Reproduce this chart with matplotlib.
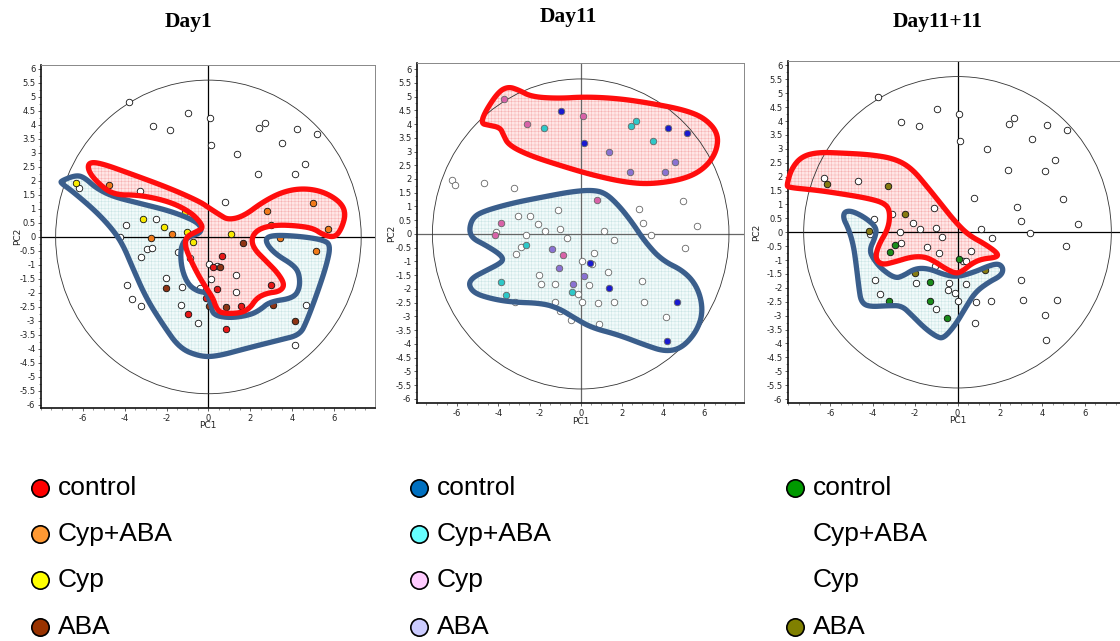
import numpy as np
import matplotlib
matplotlib.use("Agg")
import matplotlib.pyplot as plt
from matplotlib.patches import Polygon, Ellipse
from matplotlib.ticker import MultipleLocator, FixedLocator, FuncFormatter

# ---------------------------------------------------------------- data
groups = ["control", "Cyp+ABA", "Cyp", "ABA"]
titles = ["Day1", "Day11", "Day11+11"]
pc1_ticks = [-6, -4, -2, 0, 2, 4, 6]

# Day1 scores
d1_other_x = [-3.80, -0.97, 0.06, -2.66, -1.85, 2.68, 2.41, 4.21, 5.19, 3.53, 0.11, 1.36, 4.61,
              2.38, 4.12, -6.19, -3.29, 0.78, -2.49, -3.94, -4.21, -2.94, -2.70, -3.21, -1.47,
              -0.89, 0.02, 0.41, 0.14, 1.32, -2.04, -3.91, -1.26, -0.38, 1.32, -3.65, -3.24,
              -1.31, -0.51, 4.68, 4.16]
d1_other_y = [4.83, 4.44, 4.25, 3.95, 3.82, 4.07, 3.88, 3.85, 3.67, 3.37, 3.29, 2.96, 2.60,
              2.25, 2.23, 1.73, 1.64, 1.24, 0.64, 0.43, 0.01, -0.44, -0.39, -0.71, -0.54,
              -0.76, -0.96, -1.05, -1.51, -1.36, -1.46, -1.73, -1.79, -1.81, -1.95, -2.21, -2.48,
              -2.44, -3.08, -2.42, -3.87]
d1_control_x = [0.24, 0.41, -0.13, -0.99, 0.83, 1.58, 2.97, 0.64]
d1_control_y = [-1.07, -1.86, -2.18, -2.77, -3.29, -2.45, -1.71, -0.67]
d1_cypaba_x = [-4.76, -2.73, -1.76, 2.82, 3.00, 3.41, 4.99, 5.70, 5.12]
d1_cypaba_y = [1.86, -0.04, 0.11, 0.92, 0.43, -0.04, 1.20, 0.30, -0.51]
d1_cyp_x = [-6.35, -3.11, -2.11, -1.10, -1.02, -0.73, 1.07]
d1_cyp_y = [1.93, 0.64, 0.35, 0.88, 0.17, -0.17, 0.11]
d1_aba_x = [1.63, 0.56, 0.83, -2.01, 0.02, 3.10, 4.15]
d1_aba_y = [-0.21, -1.06, -2.51, -1.81, -2.45, -2.43, -2.99]

# Day11 scores
d11_other_x = [-6.26, -6.10, -4.71, -3.23, -1.08, 2.85, 3.01, 3.41, 4.97, 5.66, 5.08, -3.06,
               -2.44, -2.09, -1.71, -0.99, -0.66, 1.12, 1.63, -4.12, -2.68, -2.90, -3.14, 0.66,
               0.05, 0.55, 1.34, -2.01, -1.94, -1.23, 0.42, -0.13, 2.98, -3.19, -1.25, 0.05,
               0.86, 1.60, 3.07, -0.99, -0.49, 0.87, 4.12]
d11_other_y = [1.95, 1.77, 1.85, 1.66, 0.88, 0.92, 0.41, -0.05, 1.21, 0.29, -0.50, 0.64,
               0.64, 0.35, 0.10, 0.17, -0.15, 0.11, -0.21, 0.06, -0.05, -0.48, -0.74, -0.68,
               -0.98, -1.09, -1.37, -1.49, -1.83, -1.81, -1.87, -2.19, -1.72, -2.48, -2.47, -2.48,
               -2.52, -2.48, -2.46, -2.81, -3.13, -3.28, -3.02]
d11_control_x = [-0.95, 4.22, 5.18, 0.15, 0.44, 1.36, 4.67, 4.19]
d11_control_y = [4.47, 3.87, 3.68, 3.32, -1.05, -1.96, -2.46, -3.90]
d11_cypaba_x = [-1.80, 2.46, 2.68, 3.51, -2.64, -3.85, -3.61, -0.40]
d11_cypaba_y = [3.87, 3.93, 4.11, 3.38, -0.41, -1.76, -2.23, -2.11]
d11_cyp_x = [-3.72, 0.11, -2.59, 0.79, -3.88, -4.14, -0.84]
d11_cyp_y = [4.90, 4.28, 3.99, 1.25, 0.41, -0.05, -0.75]
d11_aba_x = [1.37, 4.58, 2.39, 4.09, -1.41, -1.04, 0.18, -0.37]
d11_aba_y = [2.98, 2.62, 2.27, 2.24, -0.53, -1.24, -1.53, -1.82]

# Day11+11 scores
d22_other_x = [-3.76, -0.96, 0.09, -2.65, -1.84, 2.66, 2.41, 4.22, 5.18, 3.50, 0.14, 1.37, 4.60,
               2.38, 4.11, -6.31, -4.71, 0.79, 2.83, 4.98, 3.01, 3.43, 5.67, 5.10, 1.09, 1.62,
               -1.12, -3.92, -3.09, -2.09, -1.76, -1.01, -0.71, -2.72, -2.68, -1.43, -0.88, 0.66,
               0.28, 0.41, -1.06, -3.89, -1.95, -0.38, 0.41, -0.43, -0.14, -3.64, 0.00, 0.85,
               1.59, 2.98, 3.09, 4.68, -1.01, 0.82, 4.14, 4.17, -4.15]
d22_other_y = [4.85, 4.45, 4.26, 3.97, 3.84, 4.11, 3.89, 3.87, 3.67, 3.37, 3.30, 2.98, 2.60,
               2.24, 2.22, 1.94, 1.85, 1.24, 0.91, 1.21, 0.42, -0.02, 0.30, -0.49, 0.12, -0.20,
               0.88, 0.46, 0.65, 0.35, 0.11, 0.17, -0.16, 0.00, -0.40, -0.53, -0.74, -0.67,
               -1.03, -1.03, -1.22, -1.73, -1.81, -1.82, -1.86, -2.08, -2.18, -2.21, -2.46, -2.51,
               -2.46, -1.72, -2.42, -2.42, -2.77, -3.28, -2.99, -3.88, -0.06]
d22_control_x = [-2.93, -3.18, 0.05, -1.28, -3.23, -1.31, -0.50]
d22_control_y = [-0.44, -0.72, -0.96, -1.80, -2.48, -2.46, -3.10]
d22_aba_x = [-6.14, -3.26, -2.47, -4.17, -2.00, 1.32]
d22_aba_y = [1.74, 1.67, 0.65, 0.06, -1.46, -1.36]

# Outlined sample regions (PC1, PC2 vertices)
d1_red_x = [-5.71, -5.12, -3.77, -1.85, -0.41, 0.06, 0.54, 0.94, 1.66, 2.62, 3.57, 4.53, 5.49,
            6.29, 6.57, 6.37, 6.05, 5.49, 5.01, 4.21, 3.26, 2.46, 2.06, 2.14, 2.78, 3.33, 3.65,
            3.41, 2.78, 2.30, 1.98, 1.50, 0.62, 0.38, 0.22, -0.10, -0.49, -0.89, -1.13, -1.05,
            -0.57, -0.26, -0.41, -0.89, -1.85, -3.29, -4.56, -5.36, -5.76]
d1_red_y = [2.67, 2.63, 2.27, 1.74, 1.26, 1.02, 0.79, 0.61, 0.73, 1.26, 1.62, 1.74, 1.62,
            1.26, 0.85, 0.31, -0.02, 0.07, 0.31, 0.40, 0.43, 0.31, 0.01, -0.40, -0.88, -1.30, -1.71,
            -1.95, -2.01, -2.19, -2.55, -2.73, -2.73, -2.55, -2.19, -1.83, -1.36, -0.76, -0.29, 0.01,
            0.19, 0.31, 0.55, 0.90, 1.26, 1.50, 1.50, 1.98, 2.39]
d1_blue_x = [-7.04, -6.32, -5.92, -5.36, -4.56, -3.29, -1.85, -0.73, -0.34, -0.38, -1.05, -1.34,
             -1.29, -0.97, -0.49, -0.10, 0.14, 0.22, 1.02, 1.98, 2.46, 2.94, 4.05, 4.37, 4.34,
             4.05, 3.26, 2.81, 2.74, 3.26, 4.53, 5.49, 5.84, 5.65, 5.17, 4.69, 4.37, 3.41, 1.82,
             0.38, -0.41, -1.37, -2.17, -2.97, -3.61, -4.08, -4.56, -5.36, -6.48, -7.04]
d1_blue_y = [2.00, 2.21, 2.12, 1.74, 1.44, 1.20, 0.93, 0.61, 0.37, 0.13, -0.02, -0.40,
             -1.12, -1.71, -1.95, -1.98, -2.43, -2.79, -2.90, -2.79, -2.61, -2.31, -2.19, -1.83, -1.30,
             -1.00, -0.64, -0.29, -0.02, 0.07, 0.01, -0.11, -0.29, -1.00, -2.07, -3.02, -3.50, -3.68, -3.98,
             -4.27, -4.27, -3.98, -3.14, -2.19, -1.12, -0.29, 0.25, 0.90, 1.62, 1.92]
d11_red_x = [-4.84, -4.64, -3.99, -3.51, -3.02, -2.38, -1.08, 0.21, 1.83, 3.44, 5.06, 6.03, 6.68,
             6.60, 6.03, 5.06, 3.44, 2.15, 0.53, -1.08, -2.54, -3.51, -3.75, -3.91, -4.48]
d11_red_y = [4.02, 4.45, 5.18, 5.36, 5.24, 4.99, 4.93, 4.99, 4.93, 4.75, 4.51, 4.21, 3.66,
             2.99, 2.39, 2.00, 1.81, 1.88, 2.15, 2.51, 2.87, 3.24, 3.60, 3.87, 3.96]
d11_blue_x = [-5.42, -5.26, -4.80, -3.35, -1.73, -0.44, 0.53, 1.18, 1.83, 2.47, 3.12, 3.93, 5.06,
              5.71, 5.95, 5.63, 4.90, 4.09, 3.12, 1.83, 0.53, -0.27, -1.08, -1.89, -3.35, -4.32,
              -5.16, -5.45, -5.26, -4.64, -3.91, -3.75, -3.99, -4.64, -5.26]
d11_blue_y = [0.15, 0.57, 0.81, 1.12, 1.36, 1.54, 1.60, 1.50, 1.05, 0.45, -0.28, -0.95, -1.37,
              -1.98, -2.82, -3.55, -4.16, -4.28, -4.04, -3.67, -3.41, -3.07, -2.70, -2.52, -2.48, -2.36,
              -2.16, -1.85, -1.59, -1.35, -1.07, -0.91, -0.70, -0.40, -0.16]
d22_red_x = [-8.06, -7.83, -7.35, -6.57, -5.46, -4.05, -2.94, -2.16, -1.37, -0.74, -0.11, 0.52,
             1.31, 1.91, 1.86, 1.15, 0.68, 0.20, -0.11, -0.58, -1.06, -1.53, -2.16, -2.94, -3.57,
             -3.89, -3.73, -3.26, -3.18, -3.42, -4.20, -5.62, -6.72, -7.98]
d22_red_y = [1.70, 2.30, 2.73, 2.88, 2.85, 2.79, 2.64, 2.30, 1.58, 0.98, 0.38, -0.10,
             -0.43, -0.76, -0.90, -0.96, -1.12, -1.42, -1.48, -1.30, -1.06, -0.88, -0.88, -1.06, -1.18,
             -0.94, -0.46, 0.14, 0.74, 1.04, 1.22, 1.40, 1.52, 1.61]
d22_blue_x = [-5.34, -4.99, -4.36, -3.81, -3.89, -4.16, -3.97, -3.57, -2.94, -2.55, -2.00, -1.37,
              -0.58, 0.05, 0.83, 1.46, 1.94, 2.17, 2.06, 1.46, 0.83, 0.36, -0.11, -0.66, -0.98,
              -1.53, -2.16, -2.63, -3.26, -4.20, -4.55, -4.65, -4.76, -4.91, -5.15, -5.39]
d22_blue_y = [0.74, 0.77, 0.53, 0.17, -0.19, -0.64, -0.96, -1.33, -1.66, -1.56, -1.30, -1.30,
              -1.54, -1.60, -1.42, -1.21, -1.12, -1.30, -1.56, -1.80, -2.16, -2.74, -3.34, -3.82, -3.76,
              -3.46, -2.98, -2.64, -2.64, -2.68, -2.50, -2.02, -1.30, -0.46, 0.14, 0.50]

# ------------------------------------------------------------- styling
W, H = 1120, 641
fig = plt.figure(figsize=(W / 100, H / 100), dpi=100)
plt.rcParams["hatch.linewidth"] = 0.3

RED_LINE, BLUE_LINE = "#ff0d0d", "#3a5e8c"
RED_FILL, RED_HATCH = "#ffe6e6", "#f5a8a8"
BLUE_FILL, BLUE_HATCH = "#f2fafa", "#c4e2e2"

pt_cols = [
    {"control": "#e81818", "Cyp+ABA": "#f07a1a", "Cyp": "#f8ea00", "ABA": "#8e3414"},
    {"control": "#1a1ad0", "Cyp+ABA": "#2ec8c8", "Cyp": "#d862a8", "ABA": "#8a72d2"},
    {"control": "#1a8c1a", "ABA": "#857a10"},
]
legend_cols = [
    {"control": "#ff0000", "Cyp+ABA": "#ff9933", "Cyp": "#ffff00", "ABA": "#993300"},
    {"control": "#0070c0", "Cyp+ABA": "#66ffff", "Cyp": "#ffccff", "ABA": "#ccccff"},
    {"control": "#009900", "Cyp+ABA": None, "Cyp": None, "ABA": "#808000"},
]


def px_axes(left, right, top, bottom):
    return fig.add_axes([left / W, 1 - bottom / H, (right - left) / W, (bottom - top) / H])


def smooth(xs, ys, n=3):
    p = np.column_stack([xs, ys]).astype(float)
    for _ in range(n):
        q = np.roll(p, -1, axis=0)
        out = np.empty((2 * len(p), 2))
        out[0::2] = 0.75 * p + 0.25 * q
        out[1::2] = 0.25 * p + 0.75 * q
        p = out
    return p


def region(ax, xs, ys, fill, hatch, line, z):
    pts = smooth(xs, ys)
    ax.add_patch(Polygon(pts, closed=True, facecolor=fill, edgecolor=hatch,
                         hatch="+++++", lw=0, zorder=1))
    ax.add_patch(Polygon(pts, closed=True, fill=False, edgecolor=line, lw=3.8,
                         joinstyle="round", zorder=z, clip_on=False))


def setup(ax, xlim, ylim, ell, axcol, xlab_y, ylab_x):
    ax.set_xlim(*xlim)
    ax.set_ylim(*ylim)
    ax.xaxis.set_major_locator(FixedLocator(pc1_ticks))
    ax.xaxis.set_minor_locator(MultipleLocator(0.5))
    ax.yaxis.set_major_locator(MultipleLocator(0.5))
    ax.yaxis.set_minor_locator(MultipleLocator(0.25))
    fmt = FuncFormatter(lambda v, p: "%g" % (round(v, 2) + 0.0))
    ax.xaxis.set_major_formatter(fmt)
    ax.yaxis.set_major_formatter(fmt)
    ax.tick_params(which="major", labelsize=6, length=2.5, width=0.5, pad=1.5,
                   colors="#222222")
    ax.tick_params(which="minor", length=1.5, width=0.4, colors="#444444")
    for s in ("left", "bottom"):
        ax.spines[s].set_color("#111111")
        ax.spines[s].set_linewidth(1.2)
    for s in ("top", "right"):
        ax.spines[s].set_color("#888888")
        ax.spines[s].set_linewidth(0.7)
    ax.set_xlabel("PC1", fontsize=6.5, color="#222222")
    ax.set_ylabel("PC2", fontsize=6.5, color="#222222")
    ax.xaxis.set_label_coords(0.5, xlab_y)
    ax.yaxis.set_label_coords(ylab_x, 0.5)
    ax.axhline(0, color=axcol, lw=0.9, zorder=2)
    ax.axvline(0, color=axcol, lw=0.9, zorder=2)
    ax.add_patch(Ellipse((0, 0), 2 * ell[0], 2 * ell[1], fill=False,
                         edgecolor="#333333", lw=0.6, zorder=2))


def points(ax, xs, ys, color, edge="#111111"):
    ax.scatter(xs, ys, s=22, c=color, edgecolors=edge, linewidths=0.6, zorder=3)


# ---------------------------------------------------------------- Day1
ax1 = px_axes(41, 375, 65, 408)
setup(ax1, (-8.0, 7.96), (-6.11, 6.14), (7.3, 5.6), "black", -0.038, -0.057)
region(ax1, d1_blue_x, d1_blue_y, BLUE_FILL, BLUE_HATCH, BLUE_LINE, 4)
region(ax1, d1_red_x, d1_red_y, RED_FILL, RED_HATCH, RED_LINE, 5)
points(ax1, d1_other_x, d1_other_y, "white")
points(ax1, d1_control_x, d1_control_y, pt_cols[0]["control"])
points(ax1, d1_cypaba_x, d1_cypaba_y, pt_cols[0]["Cyp+ABA"])
points(ax1, d1_cyp_x, d1_cyp_y, pt_cols[0]["Cyp"])
points(ax1, d1_aba_x, d1_aba_y, pt_cols[0]["ABA"])

# --------------------------------------------------------------- Day11
ax2 = px_axes(417, 744, 63, 403)
setup(ax2, (-7.95, 7.93), (-6.15, 6.22), (7.2, 5.64), "#666666", -0.041, -0.064)
region(ax2, d11_blue_x, d11_blue_y, BLUE_FILL, BLUE_HATCH, BLUE_LINE, 4)
region(ax2, d11_red_x, d11_red_y, RED_FILL, RED_HATCH, RED_LINE, 5)
points(ax2, d11_other_x, d11_other_y, "white", edge="#666666")
points(ax2, d11_control_x, d11_control_y, pt_cols[1]["control"], edge="#666666")
points(ax2, d11_cypaba_x, d11_cypaba_y, pt_cols[1]["Cyp+ABA"], edge="#666666")
points(ax2, d11_cyp_x, d11_cyp_y, pt_cols[1]["Cyp"], edge="#666666")
points(ax2, d11_aba_x, d11_aba_y, pt_cols[1]["ABA"], edge="#666666")

# ------------------------------------------------------------ Day11+11
ax3 = px_axes(788, 1127, 61, 403)
setup(ax3, (-8.0, 8.0), (-6.14, 6.16), (7.26, 5.6), "black", -0.038, -0.080)
region(ax3, d22_blue_x, d22_blue_y, BLUE_FILL, BLUE_HATCH, BLUE_LINE, 4)
region(ax3, d22_red_x, d22_red_y, RED_FILL, RED_HATCH, RED_LINE, 5)
points(ax3, d22_other_x, d22_other_y, "white")
points(ax3, d22_control_x, d22_control_y, pt_cols[2]["control"])
points(ax3, d22_aba_x, d22_aba_y, pt_cols[2]["ABA"])

# ------------------------------------------------- titles and legends
ov = fig.add_axes([0, 0, 1, 1], zorder=10)
ov.set_xlim(0, W)
ov.set_ylim(H, 0)
ov.axis("off")
ov.patch.set_alpha(0)

title_pos = [(189, 22), (568, 17), (938, 22)]
for (tx, ty), t in zip(title_pos, titles):
    ov.text(tx, ty, t, ha="center", va="center", fontsize=15.5,
            fontweight="bold", family="Liberation Serif")

col_x = [40, 419, 795]
row_y = [488, 534, 580, 627]
for cx, cols in zip(col_x, legend_cols):
    for ry, g in zip(row_y, groups):
        c = cols[g]
        if c is not None:
            ov.plot([cx], [ry], marker="o", ms=12.5, mfc=c, mec="black", mew=1.2)
        ov.text(cx + 18, ry, g, ha="left", va="center", fontsize=19,
                family="Liberation Sans")

fig.savefig("out.png", dpi=100)
